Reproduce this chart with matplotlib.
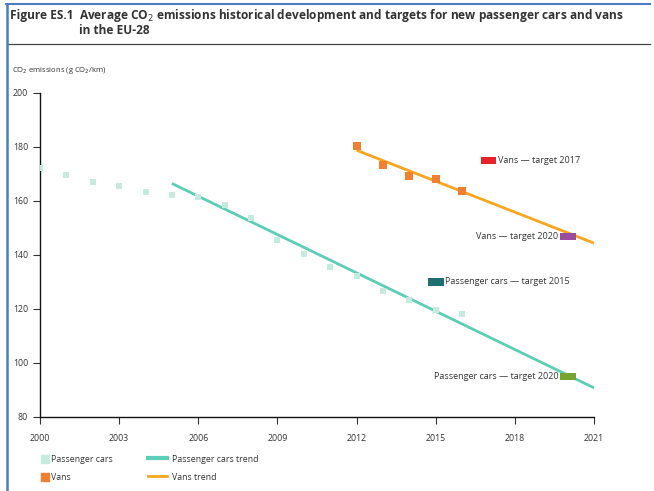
import matplotlib
matplotlib.use("Agg")
from matplotlib import pyplot as plt
from matplotlib.lines import Line2D
from matplotlib.patches import Patch
import numpy as np

plt.rcParams['font.family'] = ['Open Sans', 'DejaVu Sans']

# average CO2 emissions of new vehicles, g CO2/km
car_years = [2000, 2001, 2002, 2003, 2004, 2005, 2006, 2007, 2008,
             2009, 2010, 2011, 2012, 2013, 2014, 2015, 2016]
car_values = [172.2, 169.7, 167.2, 165.5, 163.4, 162.4, 161.3, 158.7, 153.6,
              145.7, 140.3, 135.7, 132.2, 126.7, 123.4, 119.5, 118.1]
van_years = [2012, 2013, 2014, 2015, 2016]
van_values = [180.2, 173.3, 169.1, 168.3, 163.7]

# trend lines (start, end)
car_trend_years = [2005, 2021]
car_trend_values = [166.5, 90.8]
van_trend_years = [2012, 2021]
van_trend_values = [178.8, 144.4]

# targets
target_names = ["Vans \u2014 target 2017", "Vans \u2014 target 2020",
                "Passenger cars \u2014 target 2015", "Passenger cars \u2014 target 2020"]
target_years = [2017, 2020, 2015, 2020]
target_values = [175, 147, 130, 95]
target_colors = ["#e8222c", "#9a4c9e", "#1f6e70", "#76a331"]
target_label_side = ["right", "left", "right", "left"]

x_ticks = [2000, 2003, 2006, 2009, 2012, 2015, 2018, 2021]
y_ticks = [80, 100, 120, 140, 160, 180, 200]

car_color = "#c6ebde"
car_trend_color = "#5ccdb6"
van_color = "#ef7f32"
van_trend_color = "#f8a61f"
text_color = "#333333"

fig = plt.figure(figsize=(6.54, 4.91), dpi=100)
ax = fig.add_axes([40 / 654, 74 / 491, 554 / 654, 324 / 491])

ax.plot(car_trend_years, car_trend_values, color=car_trend_color, lw=2.0,
        solid_capstyle='butt', zorder=2)
ax.plot(van_trend_years, van_trend_values, color=van_trend_color, lw=2.0,
        solid_capstyle='butt', zorder=2)
ax.scatter(car_years, car_values, marker='s', s=16, color=car_color,
           linewidths=0, zorder=3)
ax.scatter(van_years, van_values, marker='s', s=30, color=van_color,
           linewidths=0, zorder=3)

bar_h = 2.6
bar_w = 0.6
tv = np.array(target_values)
ax.bar(target_years, bar_h, bottom=tv - bar_h / 2, width=bar_w,
       color=target_colors, zorder=4)
for name, yr, val, side in zip(target_names, target_years, target_values, target_label_side):
    if side == "right":
        ax.text(yr + bar_w / 2 + 0.05, val, name, ha='left', va='center',
                fontsize=6.5, color=text_color)
    else:
        ax.text(yr - bar_w / 2 - 0.05, val, name, ha='right', va='center',
                fontsize=6.5, color=text_color)

ax.set_xlim(2000, 2021)
ax.set_ylim(80, 200)
ax.set_xticks(x_ticks)
ax.set_yticks(y_ticks)
ax.tick_params(labelsize=6.3, colors=text_color, length=5, width=0.8)
ax.tick_params(axis='x', pad=7)
for s in ['top', 'right']:
    ax.spines[s].set_visible(False)
for s in ['left', 'bottom']:
    ax.spines[s].set_linewidth(1.0)
    ax.spines[s].set_color("#111111")

# title block
fig.text(10 / 654, 1 - 15 / 491, "Figure ES.1", fontsize=8.6, fontweight='bold',
         color=text_color, va='center')
fig.text(79 / 654, 1 - 15 / 491,
         "Average CO$_2$ emissions historical development and targets for new passenger cars and vans",
         fontsize=8.6, fontweight='bold', color=text_color, va='center')
fig.text(79 / 654, 1 - 31 / 491, "in the EU-28", fontsize=8.6, fontweight='bold',
         color=text_color, va='center')
fig.add_artist(Line2D([7 / 654, 650 / 654], [1 - 44 / 491, 1 - 44 / 491],
                      color="#444444", lw=0.9))
fig.add_artist(Line2D([6 / 654, 650 / 654], [1 - 4 / 491, 1 - 4 / 491],
                      color="#4a7cc4", lw=1.5))
fig.add_artist(Line2D([7 / 654, 7 / 654], [0, 1 - 4 / 491],
                      color="#4a7cc4", lw=1.8))
fig.text(12 / 654, 1 - 70 / 491, "CO$_2$ emissions (g CO$_2$/km)", fontsize=5.5,
         color=text_color, va='center')

# legend
handles_left = [Patch(color=car_color), Patch(color=van_color)]
handles_right = [Line2D([], [], color=car_trend_color, lw=3),
                 Line2D([], [], color=van_trend_color, lw=2)]
fig.legend(handles_left, ["Passenger cars", "Vans"], loc='upper left',
           bbox_to_anchor=(33 / 654, 1 - 447 / 491), frameon=False,
           fontsize=6.3, handlelength=0.9, handleheight=1.0,
           handletextpad=0.3, labelspacing=1.0, labelcolor=text_color)
fig.legend(handles_right, ["Passenger cars trend", "Vans trend"], loc='upper left',
           bbox_to_anchor=(140 / 654, 1 - 447 / 491), frameon=False,
           fontsize=6.3, handlelength=2.2, handleheight=1.0, handletextpad=0.6,
           labelspacing=1.0, labelcolor=text_color)

fig.savefig("out.png", dpi=100)
